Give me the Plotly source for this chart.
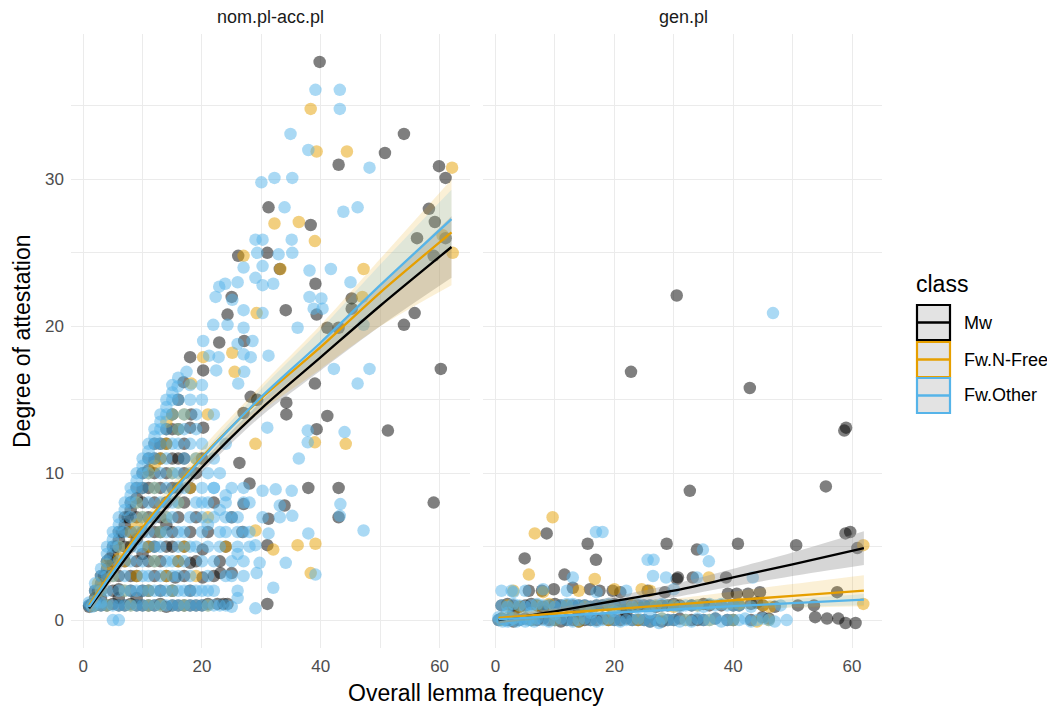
import plotly.graph_objects as go

# ---------------- data ----------------
CLASSES = ["Mw", "Fw.N-Free", "Fw.Other"]
PANELS = ["nom.pl-acc.pl", "gen.pl"]
X_TICKS = [0, 20, 40, 60]
Y_TICKS = [0, 10, 20, 30]

# panel nom.pl-acc.pl : (overall lemma frequency, degree of attestation)
NOM_MW = [
    (39.8, 38.0), (54.0, 33.1), (50.8, 31.8), (43.0, 31.0), (59.9, 30.9), (61.0, 30.1), (31.2, 28.1),
    (38.3, 26.9), (58.2, 28.0), (59.2, 27.1), (56.2, 26.0), (59.0, 24.8), (61.0, 26.0), (26.1, 24.8),
    (31.0, 25.0), (33.1, 23.9), (39.1, 22.9), (24.3, 20.8), (34.1, 21.1), (39.3, 20.8), (41.1, 19.9),
    (43.0, 19.9), (45.2, 21.9), (45.2, 21.2), (54.0, 20.1), (55.8, 20.9), (25.0, 22.0), (60.2, 17.1),
    (59.0, 8.0), (51.3, 12.9), (41.1, 13.9), (39.3, 13.0), (39.0, 16.1), (34.2, 14.0), (34.2, 14.8),
    (26.3, 10.7), (37.9, 9.0), (43.0, 9.0), (43.0, 7.0), (33.9, 7.8), (31.2, 6.9), (31.0, 5.1),
    (31.0, 1.1), (28.0, 9.3), (29.3, 15.0), (28.2, 15.2), (27.0, 14.1), (24.3, 1.1), (18.0, 17.9),
    (20.2, 17.0), (18.0, 13.1), (18.2, 14.0), (20.2, 13.1), (16.9, 16.2), (22.9, 18.9), (27.1, 19.0),
    (27.0, 7.9), (26.8, 6.0), (20.1, 4.8), (18.0, 3.9), (20.1, 2.9), (15.5, 2.9), (23.1, 3.2),
    (25.0, 3.2), (22.6, 1.1), (23.6, 1.1),
    (1, 1), (2, 1), (3, 1), (4, 1), (5, 1.1), (6, 1), (7, 1), (8, 1.1), (9, 1), (10, 1), (12, 1),
    (13, 1.1), (14, 0.9), (16, 1), (17, 1), (19, 1), (21, 1.1),
    (2, 2), (3, 2), (5, 2), (6, 2.1), (8, 2), (10, 2), (11, 2), (13, 2), (15, 2), (18, 2),
    (3, 3), (4, 3), (6, 3), (8, 3), (9, 3), (12, 3), (14, 3), (17, 3), (22, 3),
    (4, 4), (5, 4), (7, 4), (9, 4), (11, 4), (13, 4), (16, 4), (19, 4), (23, 4),
    (5, 5), (7, 5), (8, 5), (11, 5), (14, 5), (15, 5), (17, 5), (24, 5),
    (6, 6), (8, 6), (10, 6), (12, 6), (15, 6), (18, 6), (21, 6),
    (7, 7), (9, 7), (11, 7), (13, 7), (16, 7), (19, 7), (25, 7),
    (8, 8), (10, 8), (12, 8), (14, 8), (17, 8), (22, 8),
    (9, 9), (11, 9), (13, 9), (15, 9), (18, 9),
    (10, 10), (12, 10), (14, 10), (17, 10),
    (11, 11), (13, 11), (15, 11), (16, 11),
    (12, 12), (14, 12), (17, 12), (14, 13), (16, 13), (15, 14), (16, 15),
    (1, 0.9), (1.5, 1.1), (2, 1.5), (2.5, 2), (3, 2.5), (3.5, 3), (4, 3.5), (4.5, 4.2), (5, 4.5),
    (5.5, 5), (6, 5.5), (6.5, 6), (7, 6.5), (7.5, 7), (8, 7.5), (9, 8.3), (10, 9), (11, 10.2),
    (12, 11), (13, 12), (3, 1.5), (6, 1.5), (9, 1.5), (11, 1), (15, 1), (18, 1), (20, 1),
    (12, 5), (13, 6), (10, 4.5), (9, 5.5), (16, 9), (17, 11), (19, 10), (20, 11), (15, 13), (14, 6.5),
]
NOM_NF = [
    (38.3, 34.8), (39.3, 31.9), (44.4, 31.9), (32.2, 27.0), (36.3, 27.1), (39.0, 25.8), (27.0, 24.8),
    (33.2, 23.9), (29.2, 20.9), (47.2, 23.9), (47.0, 22.0), (62.1, 30.8), (62.2, 25.0), (60.5, 26.2),
    (44.2, 12.0), (39.0, 12.1), (29.0, 12.0), (36.1, 5.1), (39.1, 5.2), (32.0, 4.8), (38.3, 3.2),
    (29.0, 6.1), (20.2, 17.9), (25.1, 18.2), (25.5, 16.9), (18.2, 16.1),
    (2, 1), (4, 1), (8, 1), (11, 1), (13, 1), (17, 1), (21, 1),
    (3, 2), (7, 2), (11, 2), (15, 2), (5, 3), (9, 3), (14, 3), (19, 3),
    (7, 4), (12, 4), (16, 4), (6, 5), (11, 5), (17, 5), (24, 5),
    (8, 6), (13, 6), (10, 7), (14, 7), (21, 7), (9, 8), (16, 8), (12, 9), (18, 9),
    (11, 10), (15, 10), (13, 11), (19, 11), (14, 12), (16, 13), (15, 14), (17, 14), (21, 14),
    (1.5, 1), (2.5, 2.5), (4, 3.8), (6, 4.2), (9, 6.5), (12, 10.5), (14, 13.5),
]
NOM_OT = [
    (39.1, 36.1), (43.2, 36.1), (43.2, 34.8), (37.9, 32.0), (48.2, 30.8), (43.8, 27.8), (46.2, 28.1),
    (34.9, 33.1), (30.0, 29.8), (32.2, 30.1), (35.2, 30.1), (33.9, 28.1), (29.0, 25.9), (30.2, 25.9),
    (35.1, 25.9), (35.2, 25.0), (29.3, 25.0), (32.9, 24.9), (30.2, 24.1), (27.0, 24.0), (38.1, 23.8),
    (41.7, 23.9), (45.0, 23.0), (26.0, 23.0), (23.9, 22.9), (22.9, 22.7), (29.0, 23.3), (30.2, 22.8),
    (32.0, 22.9), (22.3, 22.0), (25.1, 21.8), (27.0, 21.1), (30.2, 20.9), (38.1, 22.0), (40.1, 21.9),
    (38.8, 21.2), (40.3, 21.2), (36.1, 19.9), (21.9, 20.1), (24.3, 20.1), (27.0, 19.9), (47.2, 20.1),
    (20.2, 19.0), (28.5, 19.0), (26.0, 18.8), (21.2, 18.0), (22.8, 17.9), (27.0, 18.1), (28.2, 17.9),
    (31.2, 18.0), (17.4, 16.9), (22.4, 17.0), (26.1, 16.1), (15.9, 15.9), (27.1, 16.9),
    (46.2, 16.1), (48.2, 17.1), (42.2, 17.1), (31.0, 13.1), (37.8, 12.9), (37.8, 12.1), (44.0, 12.8),
    (36.3, 11.0), (32.4, 8.9), (35.1, 8.8), (30.2, 8.8), (43.3, 7.9), (43.2, 7.1), (47.2, 6.1),
    (33.1, 7.8), (35.2, 7.1), (33.1, 7.0), (30.2, 7.0), (31.2, 5.9), (37.9, 5.9), (29.0, 5.1),
    (29.7, 3.9), (34.1, 3.9), (39.1, 3.1), (32.0, 2.2), (29.0, 0.8), (29.2, 3.2),
    (22, 9), (24, 8.5), (25, 7), (26, 6), (23, 5), (27, 4), (25, 3), (22, 2), (24, 1), (26, 1.5),
    (21, 6.5), (23, 7.5), (27, 9), (28, 8), (26, 4.5), (20, 8), (24, 6), (28, 6),
    (5, 0), (6, 0),
    (1, 1), (1.5, 0.9), (2, 1), (3, 1), (4, 1), (5, 1), (6, 1), (7, 1), (9, 1), (11, 1), (12, 1),
    (15, 1), (18, 1), (20, 1), (23, 1), (25, 0.9),
    (2, 2), (3, 2), (4, 2), (6, 2), (7, 2), (9, 2), (12, 2), (14, 2), (16, 2), (19, 2), (21, 2), (26, 2),
    (3, 3), (4, 3), (5, 3), (7, 3), (10, 3), (11, 3), (13, 3), (15, 3), (16, 3), (18, 3), (21, 3),
    (24, 3), (27, 3),
    (4, 4), (6, 4), (8, 4), (10, 4), (12, 4), (14, 4), (15, 4), (17, 4), (20, 4), (22, 4), (25, 4),
    (4, 5), (5, 5), (6, 5), (9, 5), (10, 5), (12, 5), (13, 5), (16, 5), (18, 5), (19, 5), (21, 5),
    (26, 5), (28, 5),
    (5, 6), (6, 6), (7, 6), (9, 6), (11, 6), (13, 6), (14, 6), (16, 6), (17, 6), (20, 6), (23, 6), (27, 6),
    (6, 7), (8, 7), (10, 7), (12, 7), (14, 7), (15, 7), (18, 7), (20, 7), (22, 7), (24, 7), (26, 7),
    (7, 8), (8, 8), (9, 8), (11, 8), (13, 8), (15, 8), (16, 8), (19, 8), (21, 8), (24, 8), (27, 8),
    (8, 9), (9, 9), (10, 9), (12, 9), (14, 9), (16, 9), (17, 9), (20, 9), (22, 9), (25, 9),
    (9, 10), (10, 10), (11, 10), (13, 10), (15, 10), (16, 10), (18, 10), (21, 10), (23, 10),
    (10, 11), (11, 11), (12, 11), (14, 11), (17, 11), (19, 11), (22, 11),
    (11, 12), (12, 12), (13, 12), (15, 12), (16, 12), (18, 12), (20, 12), (24, 12),
    (12, 13), (13, 13), (14, 13), (16, 13), (17, 13), (19, 13),
    (13, 14), (14, 14), (15, 14), (17, 14), (19, 14), (22, 14),
    (14, 15), (15, 15), (16, 15), (18, 15), (20, 15), (15, 16), (18, 16), (20, 16),
    (2, 2.5), (3, 3.5), (4, 4.5), (5, 5.5), (6, 6.5), (7, 7.5), (8, 8.5), (9, 9.5), (10, 10.5),
    (11, 11.5), (12, 12.5), (13, 13.5), (14, 14.5), (15, 15.5), (16, 16.5),
    (1, 1.2), (2, 1.3), (3, 1.2), (8, 1), (10, 1), (13, 1), (14, 1), (16, 1), (17, 1), (19, 1),
    (21, 1), (22, 1), (8, 2), (10, 2), (11, 2), (13, 2), (15, 2), (17, 2), (18, 2), (20, 2),
]

# panel gen.pl
GEN_MW = [
    (30.5, 22.1), (22.8, 16.9), (42.8, 15.8), (58.7, 12.9), (59.0, 13.1), (32.7, 8.8), (55.6, 9.1),
    (58.9, 5.9), (59.7, 6.0), (60.9, 4.9), (50.6, 5.1), (40.8, 5.2), (33.9, 4.8), (28.8, 5.2),
    (15.5, 5.2), (16.9, 4.1), (8.6, 5.9), (4.9, 4.2), (11.6, 3.1), (30.7, 2.9), (38.8, 2.9),
    (57.5, 1.9), (50.9, 1.0), (53.6, 1.0), (53.8, 0.2), (55.8, 0.1), (57.7, 0.1), (58.9, -0.2),
    (60.6, -0.2), (44.5, 1.9), (42.5, 1.8), (40.6, 1.8), (39.1, 1.8), (33.2, 2.9), (44.9, 0.2),
    (5.6, 2.0), (7.8, 2.0), (9.8, 2.1), (13.0, 2.2), (15.9, 2.1), (17.5, 2.0), (19.7, 2.0),
    (30.5, 2.8), (25.6, 2.0), (28.5, 1.9), (21.0, 1.9),
    (0.5, 0), (1, 0.1), (2, 0), (3, -0.1), (4, 0), (5, 0.1), (7, 0), (9, 0), (11, -0.1), (13, 0),
    (15, 0), (18, 0.1), (20, 0), (23, 0), (26, -0.1), (29, 0), (33, 0), (37, 0.1), (40, 0),
    (1, 1), (2, 1.1), (3, 1), (4, 0.9), (5, 1), (6, 1.1), (7, 1), (8, 0.9), (9, 1), (10, 1.1),
    (12, 1), (14, 1), (16, 0.9), (18, 1), (20, 1.1), (22, 1), (24, 1), (27, 0.9), (31, 1), (35, 1.1),
    (38, 1), (41, 1), (47, 0.9),
    (6, 0), (8, 0.1), (10, 0), (12, 0), (14, -0.1), (16, 0), (17, 0), (19, 0), (21, 0), (22, 0.1),
    (24, 0), (25, 0), (27, 0), (28, -0.1), (30, 0), (31, 0.1), (34, 0), (35, 0), (39, 0), (43, 0),
    (46, 0.1), (11, 1), (13, 1), (15, 1), (17, 1), (19, 1), (21, 1), (23, 1), (25, 1), (26, 1),
    (28, 1), (29, 1), (30, 1.1), (33, 1), (36, 1), (40, 1), (43, 1.1), (45, 1), (44, 1.2),
    (3, 0.5), (8, 0.6), (14, 0.5), (22, 0.5),
]
GEN_NF = [
    (9.6, 7.0), (6.6, 5.9), (5.6, 3.1), (16.7, 2.8), (24.6, 2.1), (61.9, 5.1), (61.9, 1.1),
    (35.9, 2.9), (46.2, 0.9),
    (1, 0), (3, 0.1), (6, 0), (10, 0), (14, -0.1), (19, 0), (24, 0), (28, 0.1), (32, 0), (36, 0),
    (40, 0), (44, -0.1), (46, 0),
    (2, 1), (4, 0.9), (7, 1), (9, 1.1), (12, 1), (15, 0.9), (19, 1), (23, 1.1), (27, 1), (30, 0.9),
    (34, 1), (41, 1.1), (45, 1),
    (3, 2), (8, 1.9), (14, 2), (20, 2.1), (26, 2),
]
GEN_OT = [
    (46.7, 20.9), (16.9, 6.0), (18.0, 6.0), (25.6, 4.1), (26.6, 4.1), (2.7, 2.0), (13.0, 2.9),
    (26.5, 3.0), (34.9, 4.8), (35.9, 4.0), (43.3, 2.9), (33.9, 2.9), (28.7, 2.9),
    (0.5, 0), (1, 0.1), (1.5, 0), (2, -0.1), (2.5, 0), (3, 0.1), (4, 0), (5, -0.1), (6, 0), (7, 0.1),
    (8, 0), (9, -0.1), (10, 0), (11, 0.1), (12, 0), (13, -0.1), (14, 0), (15, 0.1), (16, 0),
    (17, -0.1), (18, 0), (19, 0.1), (20, 0), (21, -0.1), (22, 0), (24, 0.1), (25, 0), (26, -0.1),
    (27, 0), (28, 0.1), (30, 0), (31, -0.1), (32, 0), (34, 0.1), (36, 0), (38, -0.1), (40, 0),
    (42, 0.1), (44, 0), (47, -0.1), (49, 0),
    (1, 1), (2, 0.9), (3, 1.1), (4, 1), (5, 0.9), (6, 1), (7, 1.1), (8, 1), (10, 0.9), (11, 1),
    (13, 1.1), (14, 1), (16, 0.9), (17, 1), (19, 1.1), (21, 1), (23, 0.9), (25, 1), (28, 1.1),
    (29, 1), (31, 0.9), (33, 1), (36, 1.1), (39, 1), (43, 0.9), (48, 1),
    (1, 2), (3, 1.9), (5, 2), (8, 2.1), (12, 2), (17, 1.9), (22, 2), (30, 2.1),
    (0.5, 0.2), (1.2, -0.1), (2.2, 0.2), (3.5, -0.1), (4.5, 0.1), (5.5, 0), (6.5, -0.1), (23, 0),
    (29, 0), (33, -0.1), (35, 0), (37, 0.1), (39, 0), (41, 0), (43, -0.1), (45, 0.1), (46, 0),
    (27.5, -0.2), (9, 1), (12, 1.1), (15, 1), (18, 1), (20, 0.9), (22, 1), (24, 1.1), (26, 1),
    (27, 1), (30, 1), (32, 1), (34, 1), (35, 0.9), (37, 1), (38, 1.1), (40, 1), (41, 1),
    (2, 0.5), (6, 0.5), (10, 0.4), (16, 0.5), (20, 0.6), (26, 0.5),
]

# fitted smooths with confidence band half-widths
NOM_FIT_X = [1, 10, 20, 30, 40, 50, 62]
NOM_FIT = {
    "Mw":        [0.8, 5.7, 10.4, 14.4, 17.9, 21.4, 25.4],
    "Fw.N-Free": [1.0, 6.3, 11.1, 15.1, 18.6, 22.3, 26.4],
    "Fw.Other":  [0.9, 6.1, 11.0, 15.2, 18.9, 22.8, 27.3],
}
NOM_SE = {
    "Mw":        [0.35, 0.3, 0.35, 0.5, 0.9, 1.4, 2.1],
    "Fw.N-Free": [0.6, 0.5, 0.6, 0.9, 1.5, 2.3, 3.6],
    "Fw.Other":  [0.35, 0.3, 0.35, 0.55, 0.9, 1.4, 2.0],
}
GEN_FIT_X = [0.5, 10, 20, 30, 40, 50, 62]
GEN_FIT = {
    "Mw":        [0.0, 0.6, 1.3, 2.0, 2.9, 3.8, 4.9],
    "Fw.N-Free": [0.15, 0.45, 0.75, 1.05, 1.35, 1.65, 2.0],
    "Fw.Other":  [0.05, 0.27, 0.5, 0.72, 0.95, 1.15, 1.4],
}
GEN_SE = {
    "Mw":        [0.25, 0.2, 0.3, 0.45, 0.6, 0.8, 1.15],
    "Fw.N-Free": [0.35, 0.3, 0.3, 0.4, 0.6, 0.8, 1.05],
    "Fw.Other":  [0.12, 0.1, 0.1, 0.12, 0.2, 0.28, 0.38],
}

# ---------------- style ----------------
COL = {"Mw": "#000000", "Fw.N-Free": "#E69F00", "Fw.Other": "#56B4E9"}
BAND = {"Mw": "rgba(153,153,153,0.4)", "Fw.N-Free": "rgba(230,159,0,0.16)",
        "Fw.Other": "rgba(86,180,233,0.16)"}
FONT = "Liberation Sans, Arial, Helvetica, sans-serif"
W, H = 1055, 711
OFF = 8  # page body margin in the browser
ML, MT = 71 - OFF, 34 - OFF
PW, PH = 811, 614
MR, MB = W - ML - PW, H - MT - PH


def px(x):
    return (x - OFF - ML) / PW


def py(y):
    return (MT + PH - (y - OFF)) / PH


fig = go.Figure()

panel_data = [
    ("x", "y", {"Mw": NOM_MW, "Fw.N-Free": NOM_NF, "Fw.Other": NOM_OT}, NOM_FIT_X, NOM_FIT, NOM_SE),
    ("x2", "y2", {"Mw": GEN_MW, "Fw.N-Free": GEN_NF, "Fw.Other": GEN_OT}, GEN_FIT_X, GEN_FIT, GEN_SE),
]

for xa, ya, pts, fx, fit, se in panel_data:
    for c in CLASSES:
        xs = [p[0] for p in pts[c]]
        ys = [p[1] for p in pts[c]]
        fig.add_trace(go.Scatter(
            x=xs, y=ys, mode="markers", xaxis=xa, yaxis=ya, showlegend=False,
            marker=dict(size=12.5, color=COL[c], opacity=0.5, line=dict(width=0)),
            hoverinfo="skip"))
    for c in CLASSES:
        hi = [m + s for m, s in zip(fit[c], se[c])]
        lo = [m - s for m, s in zip(fit[c], se[c])]
        fig.add_trace(go.Scatter(x=fx, y=hi, mode="lines", xaxis=xa, yaxis=ya,
                                 line=dict(width=0, shape="spline", smoothing=0.8),
                                 showlegend=False, hoverinfo="skip"))
        fig.add_trace(go.Scatter(x=fx, y=lo, mode="lines", xaxis=xa, yaxis=ya, fill="tonexty",
                                 fillcolor=BAND[c], line=dict(width=0, shape="spline", smoothing=0.8),
                                 showlegend=False, hoverinfo="skip"))
    for c in CLASSES:
        fig.add_trace(go.Scatter(x=fx, y=fit[c], mode="lines", xaxis=xa, yaxis=ya,
                                 line=dict(color=COL[c], width=2.3, shape="spline", smoothing=0.8),
                                 showlegend=False, hoverinfo="skip"))

grid = "#ebebeb"
xax = dict(range=[-2.05, 65.05], tickvals=X_TICKS, showgrid=True, gridcolor=grid, gridwidth=1.1,
           minor=dict(tickvals=[10, 30, 50], showgrid=True, gridcolor=grid, gridwidth=0.6),
           zeroline=False, showline=False, ticks="", ticklabelstandoff=6, automargin=False,
           tickfont=dict(family=FONT, size=17, color="#4d4d4d"), fixedrange=True)
yax = dict(range=[-1.9, 39.9], tickvals=Y_TICKS, showgrid=True, gridcolor=grid, gridwidth=1.1,
           minor=dict(tickvals=[5, 15, 25, 35], showgrid=True, gridcolor=grid, gridwidth=0.6),
           zeroline=False, showline=False, ticks="", ticklabelstandoff=6, automargin=False,
           tickfont=dict(family=FONT, size=17, color="#4d4d4d"), fixedrange=True)

fig.update_layout(
    width=W, height=H, margin=dict(l=ML, r=MR, t=MT, b=MB, autoexpand=False),
    paper_bgcolor="white", plot_bgcolor="white", showlegend=False,
    xaxis=dict(domain=[0, 0.4915], anchor="y", **xax),
    xaxis2=dict(domain=[0.5085, 1], anchor="y2", **xax),
    yaxis=dict(domain=[0, 1], anchor="x", **yax),
    yaxis2=dict(domain=[0, 1], anchor="x2", matches="y", showticklabels=False,
                **{k: v for k, v in yax.items() if k not in ("tickfont",)}),
)

ann = []
for name, xc in zip(PANELS, [px(270), px(683)]):
    ann.append(dict(text=name, x=xc, y=py(17), xref="paper", yref="paper", showarrow=False,
                    xanchor="center", yanchor="middle", font=dict(family=FONT, size=18, color="#1a1a1a")))
ann.append(dict(text="Overall lemma frequency", x=px(476), y=py(693), xref="paper", yref="paper",
                showarrow=False, xanchor="center", yanchor="middle",
                font=dict(family=FONT, size=23, color="black")))
ann.append(dict(text="Degree of attestation", x=px(22), y=py(341), xref="paper", yref="paper",
                showarrow=False, xanchor="center", yanchor="middle", textangle=-90,
                font=dict(family=FONT, size=23, color="black")))
ann.append(dict(text="class", x=px(914), y=py(284), xref="paper", yref="paper", showarrow=False,
                xanchor="left", yanchor="middle", font=dict(family=FONT, size=23, color="black")))

shapes = []
key_tops = [305, 342, 378]
for c, top in zip(CLASSES, key_tops):
    bot = top + 35
    shapes.append(dict(type="rect", xref="paper", yref="paper", x0=px(917), x1=px(950),
                       y0=py(bot), y1=py(top), fillcolor="#e3e3e3",
                       line=dict(color=COL[c], width=2.2)))
    mid = (top + bot) / 2
    shapes.append(dict(type="line", xref="paper", yref="paper", x0=px(917), x1=px(950),
                       y0=py(mid), y1=py(mid), line=dict(color=COL[c], width=2.3)))
    ann.append(dict(text=c, x=px(962), y=py(mid), xref="paper", yref="paper", showarrow=False,
                    xanchor="left", yanchor="middle", font=dict(family=FONT, size=18, color="black")))

fig.update_layout(annotations=ann, shapes=shapes)
fig.write_html("out.html")
